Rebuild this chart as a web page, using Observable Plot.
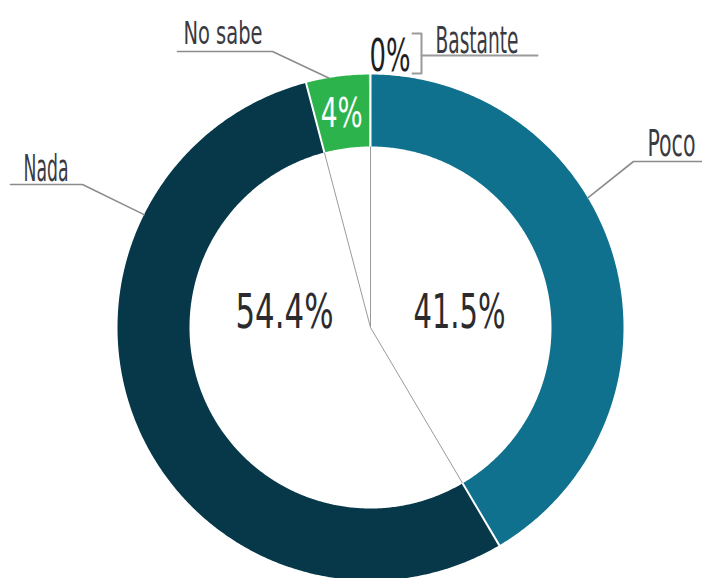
<!DOCTYPE html>
<html><head><meta charset="utf-8">
<script src="https://cdn.jsdelivr.net/npm/d3@7"></script>
<script src="https://cdn.jsdelivr.net/npm/@observablehq/plot@0.6"></script>
<style>body{margin:0;background:#fff} svg{display:block}</style>
</head><body><div id="chart"></div>
<script>
// ---- data ----
const categories = ["Poco", "Nada", "No sabe", "Bastante"];
const values = [41.5, 54.4, 4, 0.1];
const valueLabels = ["41.5%", "54.4%", "4%", "0%"];
const colors = ["#0f718e", "#06384a", "#2db34b", "#7fbfd0"];

// ---- layout ----
const W = 702, H = 578;
const cx = 370, cy = 327, R = 253, r = 181;
const total = d3.sum(values);
const deg = d3.cumsum([0, ...values]).map(v => v / total * 360);
const polar = (a, rad) => ({x: cx + rad * Math.sin(a * Math.PI / 180), y: cy - rad * Math.cos(a * Math.PI / 180)});

// slice polygons
const slicePts = [];
categories.forEach((c, i) => {
  const a0 = deg[i], a1 = deg[i + 1];
  const n = Math.max(2, Math.ceil((a1 - a0) / 0.5));
  for (let k = 0; k <= n; k++) slicePts.push({cat: c, ...polar(a0 + (a1 - a0) * k / n, R)});
  for (let k = n; k >= 0; k--) slicePts.push({cat: c, ...polar(a0 + (a1 - a0) * k / n, r)});
});

// boundaries
const bounds = [deg[0], deg[1], deg[2]];
const whiteSeps = bounds.map(a => ({p: polar(a, r - 1), q: polar(a, R + 1)}));
const graySeps = bounds.map(a => ({p: polar(a, 0), q: polar(a, r)}));

// leader lines: anchor angle on ring, elbow and end points
const leaders = [
  {cat: "Nada", a: 296.5, elbow: [82, 184], end: [10, 184]},
  {cat: "No sabe", a: 350.5, elbow: [272, 51], end: [177, 51]},
  {cat: "Poco", a: 59.2, elbow: [633, 161], end: [702, 161]}
];
const leaderPts = leaders.flatMap(l => {
  const p = polar(l.a, R);
  return [{cat: l.cat, x: p.x, y: p.y}, {cat: l.cat, x: l.elbow[0], y: l.elbow[1]}, {cat: l.cat, x: l.end[0], y: l.end[1]}];
});
const bracketPts = [
  {k: "b", x: 412, y: 33}, {k: "b", x: 421, y: 33}, {k: "b", x: 421, y: 73}, {k: "b", x: 412, y: 73},
  {k: "h", x: 421, y: 55}, {k: "h", x: 537, y: 55}
];

// text labels: position (left x, baseline y), size, target width
const catText = [
  {t: "Nada", x: 23, y: 180, size: 38, w: 45},
  {t: "No sabe", x: 183, y: 43, size: 32, w: 79},
  {t: "Poco", x: 647, y: 155, size: 38, w: 48},
  {t: "Bastante", x: 435, y: 52, size: 37, w: 83}
];
const valText = [
  {t: valueLabels[1], x: 235, y: 327, size: 48, w: 98, fill: "#2b2b2e", weight: 400},
  {t: valueLabels[0], x: 413, y: 327, size: 48, w: 92, fill: "#2b2b2e", weight: 400},
  {t: valueLabels[3], x: 369, y: 70, size: 45, w: 41, fill: "#1e1e22", weight: 500}
];
const midNS = polar((deg[2] + deg[3] - 0.1) / 2, (R + r) / 2);
const inRing = [{t: valueLabels[2], x: midNS.x - 21, y: midNS.y + 15, size: 41, w: 42, fill: "#ffffff", weight: 400}];
const widthMap = new Map([...catText, ...valText, ...inRing].map(d => [d.t, d.w]));

const FONT = "'DejaVu Sans Condensed','Liberation Sans Narrow','DejaVu Sans',sans-serif";

const chart = Plot.plot({
  width: W, height: H, margin: 0,
  x: {domain: [0, W], range: [0, W], axis: null},
  y: {domain: [0, H], range: [0, H], axis: null},
  color: {domain: categories, range: colors},
  style: {background: "#fff"},
  marks: [
    Plot.line(slicePts, {x: "x", y: "y", z: "cat", fill: "cat", stroke: "none", curve: "linear-closed"}),
    Plot.link(whiteSeps, {x1: d => d.p.x, y1: d => d.p.y, x2: d => d.q.x, y2: d => d.q.y, stroke: "#fff", strokeWidth: 2}),
    Plot.link(graySeps, {x1: d => d.p.x, y1: d => d.p.y, x2: d => d.q.x, y2: d => d.q.y, stroke: "#9a9a9a", strokeWidth: 1}),
    Plot.line(leaderPts, {x: "x", y: "y", z: "cat", stroke: "#8c8c8c", strokeWidth: 1.6}),
    Plot.line(bracketPts, {x: "x", y: "y", z: "k", stroke: "#9a9a9a", strokeWidth: 2}),
    Plot.text(catText, {x: "x", y: "y", text: "t", textAnchor: "start", lineAnchor: "bottom", fontSize: d => d.size, fill: "#3a3a42", fontFamily: FONT}),
    Plot.text(valText, {x: "x", y: "y", text: "t", textAnchor: "start", lineAnchor: "bottom", fontSize: d => d.size, fill: d => d.fill, fontWeight: d => d.weight, fontFamily: FONT}),
    Plot.text(inRing, {x: "x", y: "y", text: "t", textAnchor: "start", lineAnchor: "bottom", fontSize: d => d.size, fill: d => d.fill, fontFamily: FONT})
  ]
});
document.getElementById("chart").appendChild(chart);

// condense text horizontally to match the narrow display face
chart.querySelectorAll("text").forEach(t => {
  const w = widthMap.get(t.textContent);
  if (!w) return;
  const bb = t.getBBox();
  if (!bb.width) return;
  const s = w / bb.width;
  let tr = t.getAttribute("transform");
  if (!tr) {
    const x = +t.getAttribute("x") || 0, y = +t.getAttribute("y") || 0;
    t.removeAttribute("x"); t.removeAttribute("y");
    tr = `translate(${x},${y})`;
  }
  t.setAttribute("transform", `${tr} scale(${s},1)`);
});
</script>
</body></html>
